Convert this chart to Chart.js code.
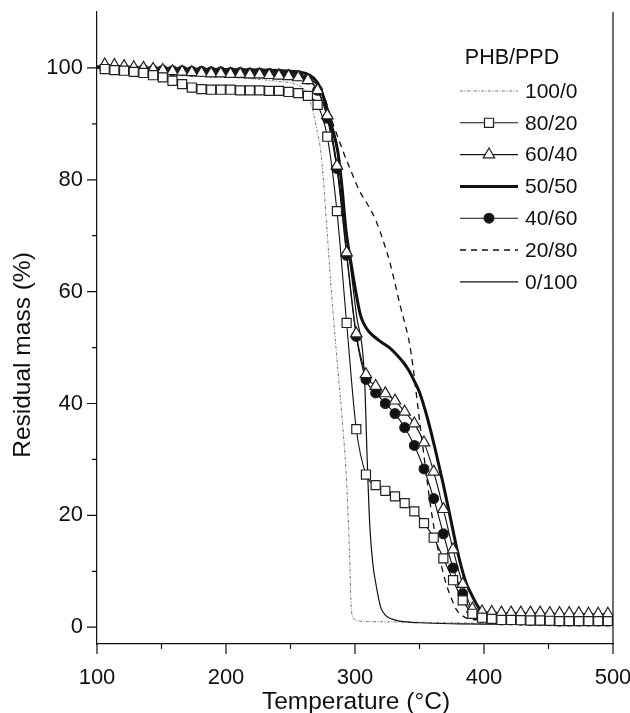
<!DOCTYPE html>
<html>
<head>
<meta charset="utf-8">
<script src="https://cdn.jsdelivr.net/npm/chart.js@4.4.1/dist/chart.umd.min.js"></script>
<style>
  html, body { margin: 0; padding: 0; background: #fff; }
</style>
</head>
<body>
<canvas id="c" width="630" height="713"></canvas>
<script>
// axes: temperature (°C) vs residual mass (%)
const xTicks = [100, 200, 300, 400, 500];
const xMinorTicks = [150, 250, 350, 450];
const yTicks = [0, 20, 40, 60, 80, 100];
const yMinorTicks = [10, 30, 50, 70, 90];
const legendTitle = 'PHB/PPD';
const seriesNames = ['100/0', '80/20', '60/40', '50/50', '40/60', '20/80', '0/100'];

// temperatures where the symbols of 80/20, 60/40 and 40/60 sit
const markerTemps = [106, 113.5, 121, 128.5, 136, 143.5, 151, 158.5, 166, 173.5,
  181, 188.5, 196, 203.5, 211, 218.5, 226, 233.5, 241, 248.5,
  256, 263.5, 271, 278.5, 286, 293.5, 301, 308.5, 316, 323.5,
  331, 338.5, 346, 353.5, 361, 368.5, 376, 383.5, 391, 398.5,
  406, 413.5, 421, 428.5, 436, 443.5, 451, 458.5, 466, 473.5,
  481, 488.5, 496];
const mass8020 = [99.8, 99.6, 99.5, 99.3, 99.1, 98.7, 98.3, 97.7, 97.1, 96.5,
  96.2, 96.1, 96.1, 96.1, 96.0, 96.0, 96.0, 95.9, 95.9, 95.7,
  95.5, 95.0, 93.4, 87.7, 74.4, 54.4, 35.4, 27.3, 25.4, 24.4,
  23.4, 22.2, 20.7, 18.6, 16.0, 12.3, 8.4, 4.8, 2.4, 1.7,
  1.5, 1.3, 1.3, 1.25, 1.2, 1.2, 1.15, 1.1, 1.1, 1.1,
  1.1, 1.1, 1.1];
const mass6040 = [100.6, 100.5, 100.3, 100.1, 100.0, 99.8, 99.6, 99.4, 99.3, 99.2,
  99.1, 99.0, 99.0, 98.9, 98.9, 98.8, 98.8, 98.7, 98.6, 98.5,
  98.3, 97.8, 96.0, 91.5, 82.5, 67.0, 52.5, 45.2, 43.1, 41.8,
  40.5, 38.5, 36.4, 33.0, 27.8, 21.1, 13.9, 7.7, 3.3, 2.8,
  2.7, 2.6, 2.6, 2.6, 2.6, 2.6, 2.5, 2.5, 2.5, 2.5,
  2.4, 2.4, 2.4];
const mass4060 = [99.9, 99.8, 99.8, 99.7, 99.7, 99.6, 99.6, 99.5, 99.5, 99.4,
  99.4, 99.3, 99.3, 99.2, 99.2, 99.1, 99.1, 99.0, 98.9, 98.8,
  98.6, 98.0, 96.0, 91.0, 82.0, 66.5, 52.0, 44.3, 41.9, 40.0,
  38.2, 35.7, 32.5, 28.3, 23.0, 16.7, 10.6, 6.0, 2.6, 1.7,
  1.5, 1.3, 1.3, 1.25, 1.2, 1.2, 1.15, 1.1, 1.1, 1.1,
  1.1, 1.1, 1.1];

// curves drawn as plain lines
const temps1000 = [100, 150, 200, 240, 255, 262, 266, 270, 274, 278, 282, 287.5, 290.5, 293.5, 295.5, 297.3, 299.8, 304, 330, 373, 400, 500];
const mass1000 = [99.9, 99.3, 98.4, 97.6, 97.0, 95.8, 93.5, 89.5, 84, 72, 59, 44, 36, 26, 15, 2.8, 1.4, 1.1, 0.95, 0.8, 0.7, 0.6];
const temps5050 = [100, 150, 200, 250, 262, 268, 273, 278, 282, 286.7, 290, 293, 297, 301, 304, 307.4, 311, 319, 326.7, 332, 338, 342, 346, 350, 356, 362, 368, 374, 380, 386, 390, 394, 398, 402, 410, 500];
const mass5050 = [100.2, 99.9, 99.7, 99.4, 99.0, 98.2, 96.5, 93, 89.5, 85, 78.5, 71, 65, 59.5, 56, 54, 52.8, 51.2, 50, 48.8, 47.2, 45.8, 44, 42, 37.5, 32, 26, 19.5, 13, 8, 6, 4.2, 2.8, 2.0, 1.6, 1.4];
const temps2080 = [100, 150, 200, 250, 265, 275, 283, 290.6, 297, 303.5, 310, 316.4, 322, 326.7, 331, 335, 339, 342.2, 345, 347.4, 350, 353, 356, 359, 363, 367, 371, 375, 379, 383, 388, 400, 500];
const mass2080 = [100, 99.8, 99.5, 99.2, 98.5, 95.5, 90, 85.2, 81.5, 78, 75.5, 72.6, 69, 65.5, 61.5, 57.5, 54, 50.8, 46.5, 42, 37, 31.5, 26, 21, 15.5, 11, 7.5, 5, 3, 2.1, 1.5, 1.3, 1.2];
const temps0100 = [100, 150, 200, 250, 265, 272, 278, 284, 290, 295, 301, 307.4, 309.3, 311.5, 314, 316, 318, 320, 323, 327, 335, 350, 380, 400, 500];
const mass0100 = [100.1, 99.8, 99.3, 98.7, 98.0, 96.5, 92.5, 85.5, 76, 67.3, 56, 44.5, 31, 18, 11, 8, 5.5, 3.5, 2.3, 1.6, 1.1, 0.8, 0.6, 0.55, 0.5];

const FONT = 'Liberation Sans, Arial, Helvetica, sans-serif';
const INK = '#111';

function pts(xs, ys) { return xs.map((x, i) => ({ x: x, y: ys[i] })); }

function lineSet(i, xs, ys, width, dash, color, order) {
  return {
    label: seriesNames[i], data: pts(xs, ys), order: order,
    borderColor: color, borderWidth: width, borderDash: dash,
    pointRadius: 0, cubicInterpolationMode: 'monotone', showLine: true
  };
}
function markerSet(i, ys, style, radius, fill, order) {
  return {
    label: seriesNames[i], data: pts(markerTemps, ys), order: order,
    borderColor: INK, borderWidth: 1.1, showLine: true,
    cubicInterpolationMode: 'monotone',
    pointStyle: style, pointRadius: radius, pointBackgroundColor: fill,
    pointBorderColor: '#222', pointBorderWidth: 1.2
  };
}

const datasets = [
  lineSet(0, temps1000, mass1000, 0.8, [3, 1.5, 1, 1.5], '#555', 6),
  markerSet(1, mass8020, 'rect', 6.4, '#fff', 0),
  markerSet(2, mass6040, 'triangle', 6.6, '#fff', 1),
  lineSet(3, temps5050, mass5050, 3, [], INK, 3),
  markerSet(4, mass4060, 'circle', 4.9, INK, 2),
  lineSet(5, temps2080, mass2080, 1.3, [6, 5], INK, 5),
  lineSet(6, temps0100, mass0100, 1.2, [], INK, 4)
];

function drawMarker(ctx, ds, x, y) {
  if (!ds.pointRadius) return;
  ctx.save();
  ctx.fillStyle = ds.pointBackgroundColor;
  ctx.strokeStyle = ds.pointBorderColor;
  ctx.lineWidth = ds.pointBorderWidth;
  ctx.setLineDash([]);
  Chart.helpers.drawPoint(ctx, { pointStyle: ds.pointStyle, radius: ds.pointRadius, rotation: 0, borderWidth: ds.pointBorderWidth }, x, y);
  ctx.restore();
}

const framePlugin = {
  id: 'frame',
  afterDraw(chart) {
    const ctx = chart.ctx, a = chart.chartArea;
    const xs = chart.scales.x, ys = chart.scales.y;
    ctx.save();
    ctx.strokeStyle = INK;
    ctx.lineWidth = 1.2;
    ctx.beginPath();
    ctx.moveTo(a.right, a.top); ctx.lineTo(a.right, a.bottom);
    xTicks.forEach(v => { const p = xs.getPixelForValue(v); ctx.moveTo(p, a.bottom); ctx.lineTo(p, a.bottom + 10); });
    xMinorTicks.forEach(v => { const p = xs.getPixelForValue(v); ctx.moveTo(p, a.bottom); ctx.lineTo(p, a.bottom + 5); });
    yTicks.forEach(v => { const p = ys.getPixelForValue(v); ctx.moveTo(a.left, p); ctx.lineTo(a.left - 10, p); });
    yMinorTicks.forEach(v => { const p = ys.getPixelForValue(v); ctx.moveTo(a.left, p); ctx.lineTo(a.left - 5, p); });
    ctx.stroke();

    // axis titles
    ctx.fillStyle = INK;
    ctx.font = '24.5px ' + FONT;
    ctx.textAlign = 'center';
    ctx.textBaseline = 'middle';
    ctx.fillText('Temperature (°C)', 356, 702);
    ctx.save();
    ctx.translate(23, 355);
    ctx.rotate(-Math.PI / 2);
    ctx.fillText('Residual mass (%)', 0, 0);
    ctx.restore();

    // legend
    ctx.font = '21.5px ' + FONT;
    ctx.fillText(legendTitle, 512, 58);
    ctx.font = '21px ' + FONT;
    ctx.textAlign = 'left';
    const x0 = 460, x1 = 518;
    datasets.forEach((ds, i) => {
      const y = 91 + i * 31.8;
      ctx.save();
      ctx.strokeStyle = ds.borderColor;
      ctx.lineWidth = ds.borderWidth;
      ctx.setLineDash(ds.borderDash || []);
      ctx.beginPath(); ctx.moveTo(x0, y); ctx.lineTo(x1, y); ctx.stroke();
      ctx.restore();
      drawMarker(ctx, ds, (x0 + x1) / 2, y);
      ctx.fillText(ds.label, 525, y + 1);
    });
    ctx.restore();
  }
};

new Chart(document.getElementById('c'), {
  type: 'scatter',
  data: { datasets: datasets },
  plugins: [framePlugin],
  options: {
    responsive: false,
    devicePixelRatio: 1,
    animation: false,
    layout: { padding: { top: 12, right: 17, bottom: 0, left: 0 } },
    plugins: { legend: { display: false }, tooltip: { enabled: false } },
    scales: {
      x: {
        type: 'linear', min: 100, max: 500,
        afterFit: s => { s.height = 69; s.paddingLeft = 0; s.paddingRight = 0; },
        afterBuildTicks: s => { s.ticks = xTicks.map(v => ({ value: v })); },
        grid: { display: false, drawTicks: false },
        border: { display: true, color: INK, width: 1.2 },
        ticks: { padding: 21, color: INK, font: { family: FONT, size: 22 }, maxRotation: 0 }
      },
      y: {
        type: 'linear', min: -3, max: 110,
        afterFit: s => { s.width = 97; s.paddingTop = 0; s.paddingBottom = 0; },
        afterBuildTicks: s => { s.ticks = yTicks.map(v => ({ value: v })); },
        grid: { display: false, drawTicks: false },
        border: { display: true, color: INK, width: 1.2 },
        ticks: { padding: 14, color: INK, font: { family: FONT, size: 22 } }
      }
    }
  }
});
</script>
</body>
</html>
